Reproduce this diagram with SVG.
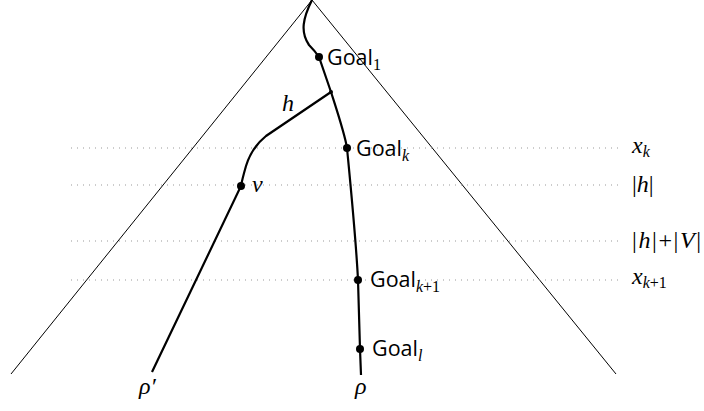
<svg xmlns="http://www.w3.org/2000/svg" width="704" height="411" viewBox="0 0 704 411">
<style>
.tri{fill:none;stroke:#000;stroke-width:1}
.dot{fill:none;stroke:#999;stroke-width:1;stroke-dasharray:1 5}
.path{fill:none;stroke:#000;stroke-width:2.2}
.pt{fill:#000}
.sans{font-family:"Open Sans","Noto Sans",sans-serif;font-size:21.5px;fill:#000}
.math{font-family:"Liberation Serif","DejaVu Serif",serif;font-style:italic;font-size:24px;fill:#000}
.up{font-style:normal}
.sub{font-size:16px}
.ser{font-family:"Liberation Serif","DejaVu Serif",serif}
</style>
<rect width="704" height="411" fill="#fff"/>
<g id="tree">
<polyline class="tri" points="11,374 312,0 616,374"/>
</g>
<g id="levels">
<line class="dot" x1="71" y1="148" x2="620" y2="148"/>
<line class="dot" x1="71" y1="185" x2="620" y2="185"/>
<line class="dot" x1="71" y1="241" x2="620" y2="241"/>
<line class="dot" x1="71" y1="280" x2="620" y2="280"/>
<text class="math" x="632" y="153">x<tspan class="sub" dy="4">k</tspan></text>
<text class="math" x="632" y="192"><tspan class="up">|</tspan>h<tspan class="up">|</tspan></text>
<text class="math" x="632" y="248" textLength="69" lengthAdjust="spacing"><tspan class="up">|</tspan>h<tspan class="up">|+|</tspan>V<tspan class="up">|</tspan></text>
<text class="math" x="632" y="284">x<tspan class="sub" dy="4">k</tspan><tspan class="sub up">+1</tspan></text>
</g>
<g id="connectors">
<path id="rho" class="path" d="M312,0 C303,18 300,32 309,45 C314,50 317,54 319,57 L331,92 C340,120 345,135 347,148 C352,200 356,240 358,280 L360,349 L361,375"/>
<path id="rho-prime" class="path" d="M331,92 L266,136 C256,144 250,153 246,166 C244,173 242,180 241,186 L152,372"/>
</g>
<g id="goal1">
<circle class="pt" cx="319" cy="57" r="4"/>
<text class="sans" x="327" y="65">Goal<tspan class="sub ser" dy="5">1</tspan></text>
</g>
<g id="branch">
<circle class="pt" cx="331" cy="92" r="2"/>
<text class="math" x="282" y="111">h</text>
</g>
<g id="goalk">
<circle class="pt" cx="347" cy="148" r="4"/>
<text class="sans" x="356" y="156">Goal<tspan class="sub ser" font-style="italic" dy="5">k</tspan></text>
</g>
<g id="v">
<circle class="pt" cx="241" cy="186" r="4"/>
<text class="math" x="252" y="192">v</text>
</g>
<g id="goalk1">
<circle class="pt" cx="358" cy="280" r="4"/>
<text class="sans" x="370" y="287">Goal<tspan class="sub ser" font-style="italic" dy="5">k</tspan><tspan class="sub ser">+1</tspan></text>
</g>
<g id="goall">
<circle class="pt" cx="360" cy="349" r="4"/>
<text class="sans" x="372" y="356">Goal<tspan class="sub ser" font-style="italic" dy="5">l</tspan></text>
</g>
<g id="labels">
<text class="math" x="139" y="394">ρ′</text>
<text class="math" x="355" y="394">ρ</text>
</g>
</svg>
